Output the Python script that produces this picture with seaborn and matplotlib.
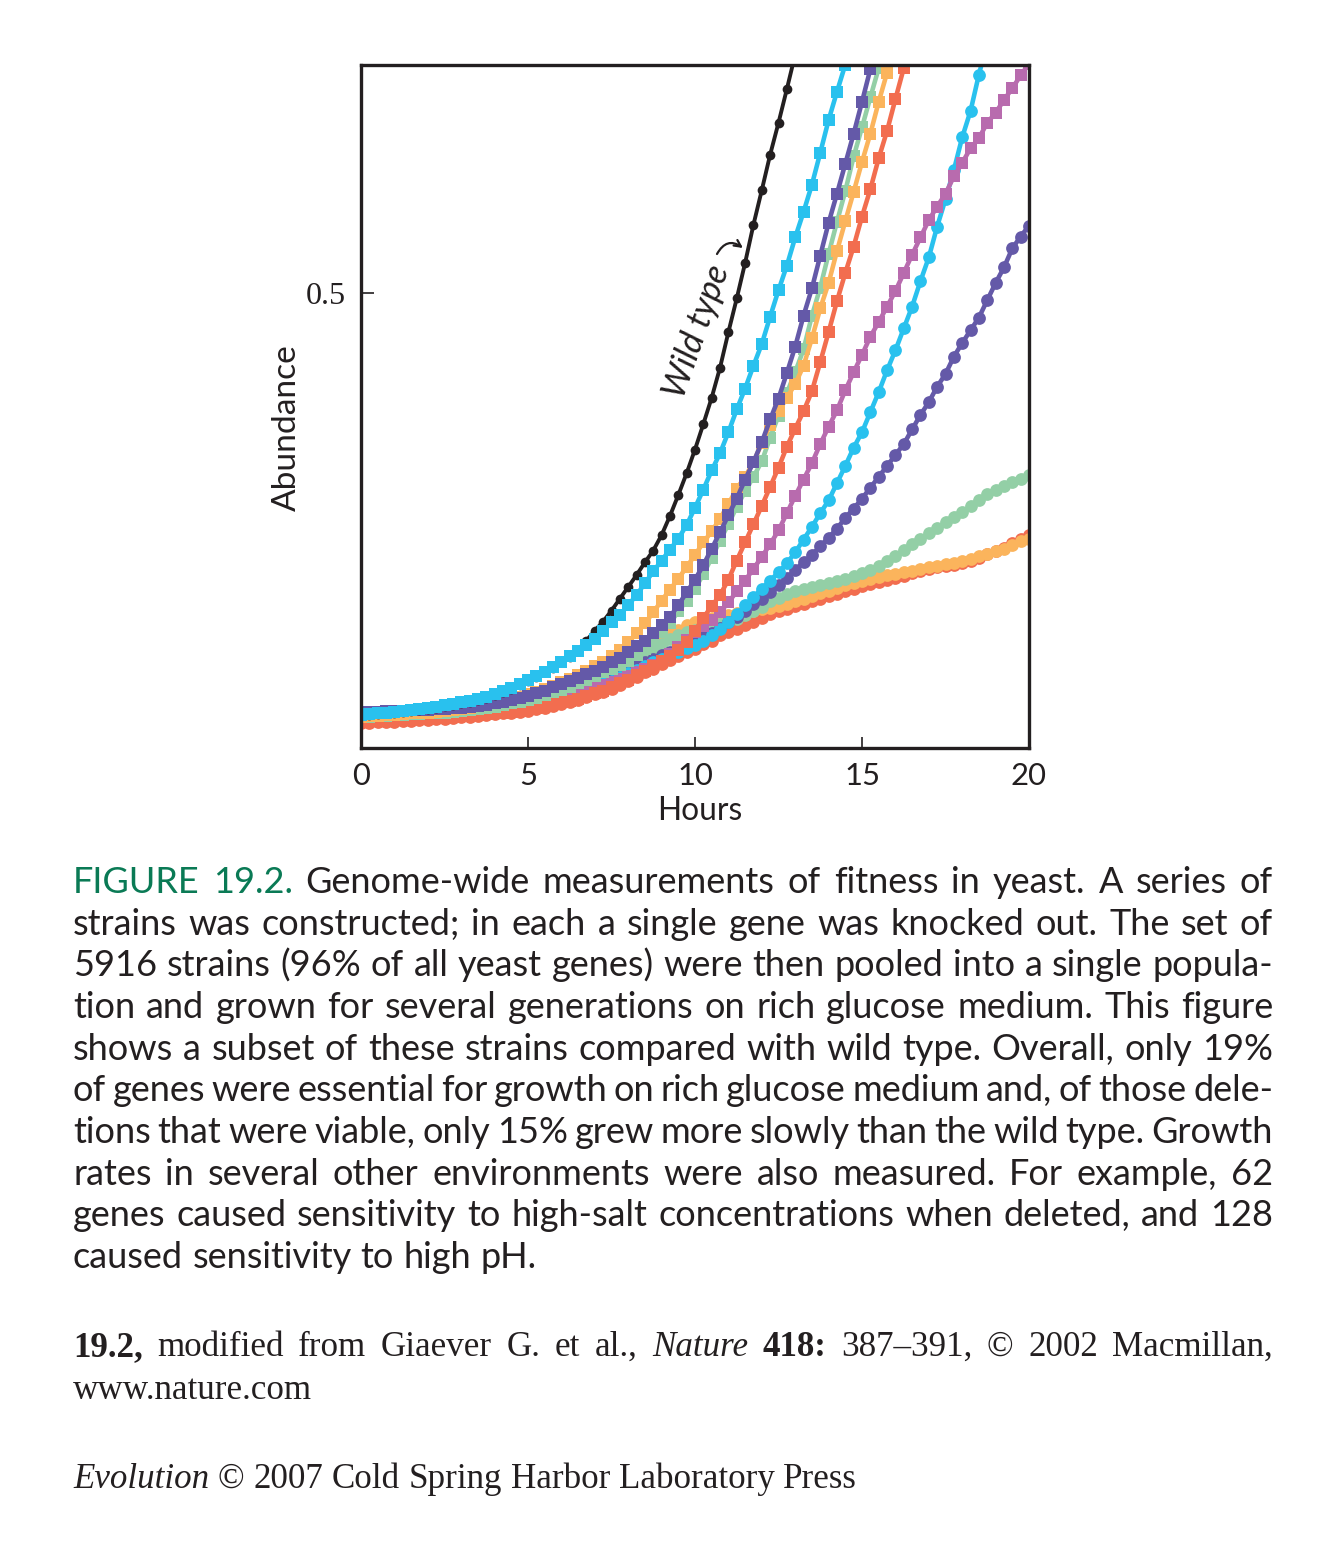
import numpy as np
import pandas as pd
import matplotlib
matplotlib.use("Agg")
import matplotlib.pyplot as plt
import seaborn as sns

# ---------------- data ----------------
HOURS = np.arange(81) * 0.25          # sampling times, every 15 min

WILD_TYPE = [0.035,0.036,0.037,0.038,0.039,0.040,0.041,0.042,0.043,0.044,
             0.046,0.047,0.049,0.051,0.053,0.055,0.058,0.062,0.065,0.069,
             0.074,0.078,0.083,0.088,0.094,0.100,0.108,0.118,0.129,0.139,
             0.151,0.164,0.177,0.190,0.204,0.217,0.234,0.255,0.278,0.302,
             0.328,0.356,0.385,0.418,0.457,0.494,0.533,0.575,0.613,0.652,
             0.687,0.724,0.762]
CYAN_SQ = [0.036,0.037,0.038,0.039,0.040,0.041,0.042,0.043,0.044,0.045,
           0.047,0.048,0.050,0.052,0.054,0.056,0.059,0.063,0.066,0.070,
           0.075,0.079,0.084,0.089,0.095,0.101,0.107,0.113,0.120,0.129,
           0.138,0.146,0.157,0.168,0.181,0.194,0.206,0.218,0.230,0.245,
           0.264,0.284,0.305,0.324,0.347,0.372,0.395,0.420,0.444,0.474,
           0.503,0.530,0.561,0.589,0.619,0.654,0.690,0.721,0.751]
PURPLE_SQ = [0.040,0.040,0.040,0.041,0.041,0.041,0.042,0.042,0.042,0.043,
             0.043,0.044,0.044,0.045,0.046,0.047,0.049,0.051,0.053,0.055,
             0.057,0.060,0.063,0.067,0.070,0.074,0.077,0.081,0.085,0.089,
             0.094,0.099,0.106,0.112,0.118,0.126,0.135,0.144,0.157,0.171,
             0.185,0.201,0.219,0.237,0.256,0.274,0.295,0.314,0.336,0.361,
             0.384,0.412,0.441,0.475,0.505,0.541,0.577,0.609,0.642,0.675,
             0.710,0.746,0.780]
GREEN_SQ = [0.034,0.034,0.035,0.035,0.036,0.036,0.037,0.037,0.038,0.038,
            0.039,0.040,0.041,0.042,0.043,0.044,0.045,0.047,0.049,0.051,
            0.053,0.055,0.058,0.061,0.064,0.067,0.071,0.075,0.079,0.083,
            0.087,0.091,0.096,0.102,0.109,0.118,0.128,0.137,0.150,0.162,
            0.175,0.191,0.209,0.228,0.246,0.265,0.282,0.298,0.315,0.341,
            0.365,0.390,0.413,0.438,0.475,0.506,0.543,0.578,0.612,0.650,
            0.682,0.715,0.747,0.780]
ORANGE_SQ = [0.034,0.035,0.035,0.036,0.036,0.037,0.038,0.038,0.039,0.040,
             0.041,0.042,0.043,0.044,0.046,0.047,0.049,0.051,0.053,0.056,
             0.059,0.062,0.065,0.068,0.072,0.076,0.080,0.085,0.090,0.095,
             0.101,0.108,0.116,0.126,0.137,0.149,0.162,0.174,0.186,0.199,
             0.212,0.226,0.238,0.252,0.268,0.285,0.298,0.314,0.335,0.355,
             0.370,0.385,0.400,0.420,0.450,0.483,0.511,0.546,0.579,0.611,
             0.644,0.675,0.710,0.742,0.780]
RED_SQ = [0.032,0.032,0.032,0.033,0.033,0.033,0.033,0.034,0.034,0.034,
          0.035,0.035,0.035,0.036,0.036,0.037,0.038,0.039,0.040,0.041,
          0.043,0.044,0.046,0.048,0.050,0.052,0.054,0.057,0.060,0.063,
          0.067,0.071,0.075,0.080,0.085,0.090,0.096,0.101,0.108,0.117,
          0.129,0.143,0.156,0.168,0.185,0.206,0.226,0.246,0.266,0.287,
          0.308,0.331,0.351,0.370,0.392,0.424,0.457,0.491,0.522,0.551,
          0.584,0.614,0.648,0.678,0.713,0.747,0.780]
CYAN_CI = [0.033,0.033,0.034,0.034,0.034,0.035,0.035,0.035,0.036,0.036,
           0.037,0.037,0.038,0.039,0.040,0.041,0.042,0.043,0.045,0.046,
           0.048,0.050,0.052,0.054,0.056,0.059,0.062,0.065,0.068,0.071,
           0.074,0.078,0.082,0.086,0.090,0.094,0.098,0.102,0.106,0.110,
           0.113,0.118,0.124,0.131,0.138,0.147,0.157,0.166,0.175,0.184,
           0.193,0.203,0.215,0.229,0.243,0.258,0.272,0.291,0.310,0.330,
           0.347,0.369,0.391,0.415,0.437,0.461,0.485,0.513,0.539,0.573,
           0.603,0.635,0.671,0.700,0.740,0.775]
MAGENTA_SQ = [0.033,0.033,0.034,0.034,0.035,0.035,0.036,0.036,0.037,0.037,
              0.038,0.039,0.040,0.041,0.042,0.043,0.044,0.045,0.047,0.048,
              0.050,0.052,0.054,0.056,0.058,0.060,0.062,0.065,0.067,0.069,
              0.072,0.076,0.079,0.083,0.087,0.091,0.096,0.103,0.111,0.119,
              0.127,0.134,0.141,0.149,0.160,0.172,0.184,0.197,0.210,0.224,
              0.239,0.258,0.277,0.295,0.313,0.334,0.353,0.371,0.393,0.413,
              0.432,0.452,0.468,0.485,0.502,0.522,0.542,0.561,0.580,0.595,
              0.609,0.628,0.643,0.659,0.670,0.687,0.698,0.712,0.725,0.739,
              0.752]
PURPLE_CI = [0.034,0.034,0.034,0.035,0.035,0.035,0.036,0.036,0.037,0.037,
             0.038,0.039,0.040,0.041,0.042,0.043,0.044,0.045,0.047,0.049,
             0.051,0.053,0.055,0.057,0.060,0.062,0.065,0.068,0.072,0.075,
             0.078,0.082,0.086,0.090,0.094,0.098,0.102,0.106,0.110,0.114,
             0.118,0.122,0.126,0.132,0.138,0.144,0.151,0.158,0.164,0.171,
             0.179,0.187,0.196,0.204,0.212,0.222,0.231,0.241,0.253,0.263,
             0.274,0.286,0.298,0.310,0.322,0.334,0.350,0.366,0.380,0.397,
             0.411,0.430,0.445,0.459,0.473,0.492,0.511,0.528,0.549,0.562,
             0.574]
GREEN_CI = [0.033,0.033,0.034,0.034,0.035,0.035,0.036,0.036,0.037,0.038,
            0.038,0.039,0.040,0.041,0.042,0.043,0.045,0.046,0.048,0.050,
            0.052,0.054,0.057,0.059,0.062,0.065,0.069,0.072,0.076,0.081,
            0.087,0.092,0.097,0.101,0.105,0.109,0.114,0.120,0.124,0.127,
            0.130,0.132,0.134,0.136,0.139,0.142,0.146,0.150,0.155,0.161,
            0.165,0.169,0.172,0.175,0.177,0.179,0.181,0.184,0.186,0.189,
            0.192,0.196,0.200,0.205,0.211,0.218,0.224,0.230,0.236,0.242,
            0.248,0.254,0.259,0.266,0.273,0.279,0.283,0.288,0.292,0.296,
            0.300]
ORANGE_CI = [0.033,0.033,0.033,0.034,0.034,0.035,0.035,0.036,0.036,0.037,
             0.038,0.039,0.040,0.041,0.042,0.043,0.045,0.047,0.049,0.051,
             0.053,0.056,0.058,0.061,0.064,0.068,0.072,0.076,0.081,0.086,
             0.092,0.099,0.104,0.108,0.112,0.117,0.121,0.126,0.130,0.135,
             0.139,0.141,0.143,0.145,0.146,0.148,0.150,0.151,0.153,0.154,
             0.156,0.158,0.161,0.164,0.167,0.170,0.173,0.176,0.179,0.181,
             0.184,0.186,0.188,0.190,0.191,0.193,0.195,0.197,0.199,0.200,
             0.202,0.203,0.206,0.208,0.211,0.213,0.216,0.219,0.223,0.227,
             0.230]
RED_CI = [0.028,0.028,0.029,0.029,0.029,0.030,0.030,0.031,0.031,0.032,
          0.032,0.033,0.034,0.034,0.035,0.036,0.037,0.038,0.039,0.040,
          0.041,0.043,0.044,0.046,0.048,0.050,0.053,0.056,0.059,0.062,
          0.065,0.069,0.074,0.078,0.083,0.087,0.092,0.097,0.101,0.105,
          0.109,0.114,0.118,0.124,0.128,0.131,0.135,0.139,0.143,0.147,
          0.150,0.153,0.156,0.158,0.161,0.164,0.167,0.169,0.172,0.175,
          0.178,0.180,0.182,0.185,0.187,0.189,0.192,0.195,0.197,0.199,
          0.200,0.201,0.203,0.206,0.209,0.213,0.216,0.220,0.225,0.230,
          0.234]

X_TICKS = [0, 5, 10, 15, 20]
Y_TICKS = [0.5]
Y_TICK_LABELS = ["0.5"]

# ---------------- styles ----------------
INK = "#231f20"
C_CYAN, C_PURPLE, C_GREEN = "#29c1ee", "#6459a8", "#93cfa6"
C_ORANGE, C_RED, C_MAGENTA = "#fbb45c", "#f26d4f", "#b86bae"

CI_MS, SQ_MS, LW = 9.2, 8.2, 3.3
# draw order (bottom -> top)
SERIES = [
    ("red circles",      RED_CI,     C_RED,     "o", CI_MS, LW),
    ("orange circles",   ORANGE_CI,  C_ORANGE,  "o", CI_MS, LW),
    ("green circles",    GREEN_CI,   C_GREEN,   "o", CI_MS, LW),
    ("purple circles",   PURPLE_CI,  C_PURPLE,  "o", CI_MS, LW),
    ("cyan circles",     CYAN_CI,    C_CYAN,    "o", CI_MS, LW),
    ("magenta squares",  MAGENTA_SQ, C_MAGENTA, "s", SQ_MS, LW),
    ("red squares",      RED_SQ,     C_RED,     "s", SQ_MS, LW),
    ("green squares",    GREEN_SQ,   C_GREEN,   "s", SQ_MS, LW),
    ("orange squares",   ORANGE_SQ,  C_ORANGE,  "s", SQ_MS, LW),
    ("purple squares",   PURPLE_SQ,  C_PURPLE,  "s", SQ_MS, LW),
    ("wild type",        WILD_TYPE,  INK,       "o", 7.0, 2.8),
    ("cyan squares",     CYAN_SQ,    C_CYAN,    "s", SQ_MS, LW),
]

sns.set_theme(style="ticks")
SANS = ["Lato", "DejaVu Sans"]
SERIF = ["Liberation Serif", "DejaVu Serif"]
plt.rcParams["font.family"] = SANS
plt.rcParams["text.color"] = INK

W, H = 1344, 1542
fig = plt.figure(figsize=(W / 100, H / 100), dpi=100)
fig.patch.set_facecolor("white")
renderer = fig.canvas.get_renderer()

AX_L, AX_R, AX_T, AX_B = 361, 1029, 65, 748
ax = fig.add_axes([AX_L / W, 1 - AX_B / H, (AX_R - AX_L) / W, (AX_B - AX_T) / H])
ax.set_facecolor("white")

for z, (name, vals, col, mk, ms, lw) in enumerate(SERIES):
    df = pd.DataFrame({"Hours": HOURS[:len(vals)], "Abundance": vals})
    sns.lineplot(data=df, x="Hours", y="Abundance", ax=ax, color=col,
                 marker=mk, markersize=ms, markeredgewidth=0, linewidth=lw,
                 estimator=None, sort=False, legend=False, zorder=2 + z * 0.1)

ax.set_xlim(0, 20)
ax.set_ylim(0, 0.7505)
ax.set_xlabel("")
ax.set_ylabel("")
for sp in ax.spines.values():
    sp.set_visible(True)
    sp.set_linewidth(2.4)
    sp.set_color(INK)
    sp.set_zorder(10)


def fit_size(text, target_px, **kw):
    t = fig.text(0, 0, text, fontsize=20, **kw)
    w = t.get_window_extent(renderer).width
    t.remove()
    return 20 * target_px / w


tick_fs = fit_size("10", 36, family=SANS)
ytick_fs = fit_size("0.5", 40, family=SERIF)
ax.set_xticks(X_TICKS)
ax.set_xticklabels([str(v) for v in X_TICKS], fontsize=tick_fs, family=SANS, color=INK)
ax.set_yticks(Y_TICKS)
ax.set_yticklabels(Y_TICK_LABELS, fontsize=ytick_fs, family=SERIF, color=INK)
ax.tick_params(axis="x", direction="in", length=8, width=1.2, color=INK, pad=10)
ax.tick_params(axis="y", direction="in", length=9, width=1.2, color=INK, pad=11)

# axis labels
lab_fs = fit_size("Hours", 85, family=SANS)
ax.set_xlabel("Hours", fontsize=lab_fs, family=SANS, color=INK, va="baseline")
ax.xaxis.set_label_coords((700 - AX_L) / (AX_R - AX_L), -(820 - AX_B) / (AX_B - AX_T))
ylab_fs = fit_size("Abundance", 167, family=SANS)
ax.set_ylabel("Abundance", fontsize=ylab_fs, family=SANS, color=INK, va="center")
ax.yaxis.set_label_coords(-(AX_L - 287) / (AX_R - AX_L), (AX_B - 428) / (AX_B - AX_T))


def px2data(px, py):
    return ((px - AX_L) / (AX_R - AX_L) * 20, (AX_B - py) / (AX_B - AX_T) * 0.7505)


# wild type label + arrow
wt_fs = fit_size("Wild type", 138, family=SANS, style="italic")
wx, wy = px2data(697, 331)
ax.text(wx, wy, "Wild type", rotation=70.5, rotation_mode="anchor", ha="center",
        va="center", fontsize=wt_fs, style="italic", family=SANS, color=INK, zorder=20)
ax.annotate("", xy=px2data(743, 248), xytext=px2data(717, 254),
            arrowprops=dict(arrowstyle="->", connectionstyle="arc3,rad=-0.55",
                            lw=1.6, color=INK, shrinkA=0, shrinkB=0,
                            mutation_scale=12), zorder=20)

# ---------------- caption ----------------
GREEN_HEAD = "#0a7a55"


def place_line(tokens, baseline_px, size, family, justify, x0=73, x1=1273):
    arts, widths = [], []
    for word, props in tokens:
        props = dict(props)
        t = fig.text(0, 1 - baseline_px / H, word, fontsize=size, family=family,
                     ha="left", va="baseline", color=props.pop("color", INK), **props)
        arts.append(t)
        widths.append(t.get_window_extent(renderer).width)
    a = fig.text(0, 0, "n n", fontsize=size, family=family)
    b = fig.text(0, 0, "nn", fontsize=size, family=family)
    space = a.get_window_extent(renderer).width - b.get_window_extent(renderer).width
    a.remove(); b.remove()
    if justify and len(arts) > 1:
        gap = (x1 - x0 - sum(widths)) / (len(arts) - 1)
    else:
        gap = space
    x = x0
    for t, w in zip(arts, widths):
        t.set_x(x / W)
        x += w + gap


CAPTION = [
    "FIGURE 19.2. Genome-wide measurements of fitness in yeast. A series of",
    "strains was constructed; in each a single gene was knocked out. The set of",
    "5916 strains (96% of all yeast genes) were then pooled into a single popula-",
    "tion and grown for several generations on rich glucose medium. This figure",
    "shows a subset of these strains compared with wild type. Overall, only 19%",
    "of genes were essential for growth on rich glucose medium and, of those dele-",
    "tions that were viable, only 15% grew more slowly than the wild type. Growth",
    "rates in several other environments were also measured. For example, 62",
    "genes caused sensitivity to high-salt concentrations when deleted, and 128",
    "caused sensitivity to high pH.",
]
cap_fs = fit_size(CAPTION[-1], 465, family=SANS)
for i, line in enumerate(CAPTION):
    toks = []
    for j, w in enumerate(line.split(" ")):
        props = {}
        if i == 0 and j < 2:
            props = {"color": GREEN_HEAD}
        toks.append((w, props))
    place_line(toks, 893 + i * 41.67, cap_fs, SANS, justify=(i < len(CAPTION) - 1))

ser_fs = 0.5 * (fit_size("www.nature.com", 240, family=SERIF)
                + fit_size("Evolution \u00a9 2007 Cold Spring Harbor Laboratory Press", 778,
                           family=SERIF))
credit = [("19.2,", {"weight": "bold"}), ("modified", {}), ("from", {}), ("Giaever", {}),
          ("G.", {}), ("et", {}), ("al.,", {}), ("Nature", {"style": "italic"}),
          ("418:", {"weight": "bold"}), ("387\u2013391,", {}), ("\u00a9", {}),
          ("2002", {}), ("Macmillan,", {})]
place_line(credit, 1356, ser_fs, SERIF, justify=True)
place_line([("www.nature.com", {})], 1399, ser_fs, SERIF, justify=False)
footer = [("Evolution", {"style": "italic"}), ("\u00a9", {}), ("2007", {}), ("Cold", {}),
          ("Spring", {}), ("Harbor", {}), ("Laboratory", {}), ("Press", {})]
place_line(footer, 1488, ser_fs, SERIF, justify=False)

fig.savefig("out.png", dpi=100, facecolor="white")
